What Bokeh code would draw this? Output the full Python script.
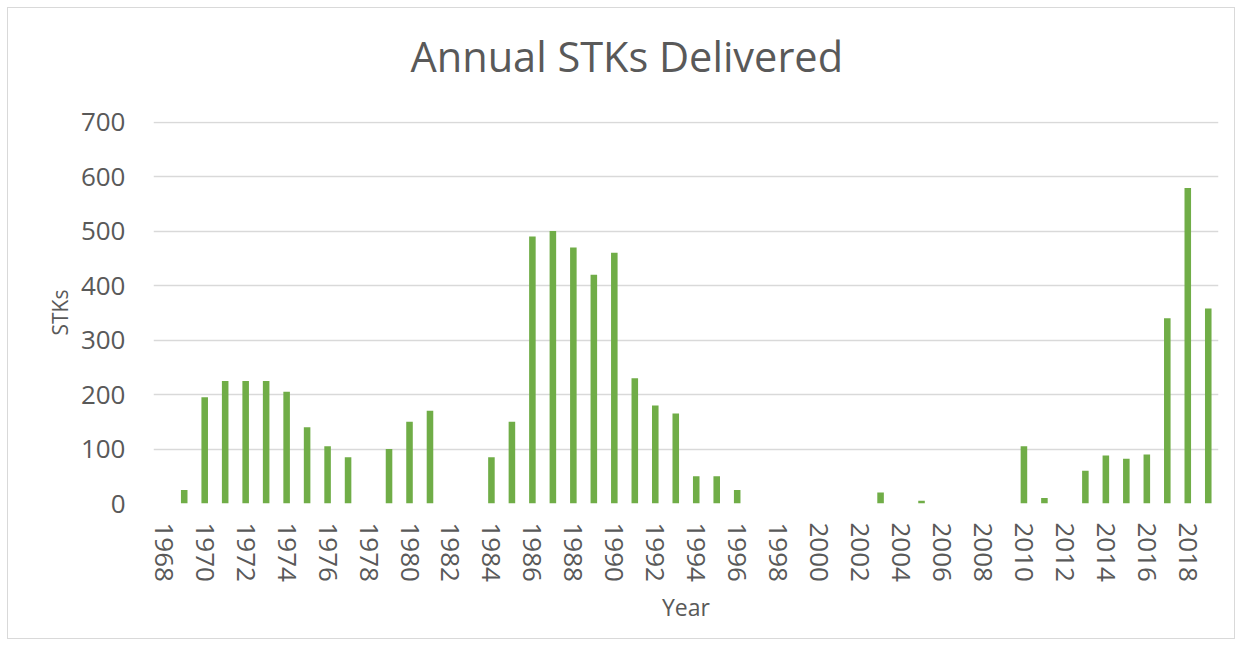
from bokeh.plotting import figure
from bokeh.models import Range1d, FixedTicker, Title
from bokeh.embed import file_html
from bokeh.resources import INLINE

years = list(range(1968, 2020))
stks = [0, 25, 195, 225, 225, 225, 205, 140, 105, 85,
        0, 100, 150, 170, 0, 0, 85, 150, 490, 500,
        470, 420, 460, 230, 180, 165, 50, 50, 25, 0,
        0, 0, 0, 0, 0, 20, 0, 5, 0, 0,
        0, 0, 105, 10, 0, 60, 88, 82, 90, 340,
        579, 358]
x_ticks = list(range(1968, 2019, 2))
y_ticks = [0, 100, 200, 300, 400, 500, 600, 700]

title_text = "Annual STKs Delivered"
x_label = "Year"
y_label = "STKs"

FONT = "Open Sans"
TXT = "#595959"

p = figure(width=1228, height=632, output_backend="svg", toolbar_location=None,
           x_range=Range1d(1967.5, 2019.5), y_range=Range1d(0, 701),
           min_border_left=145, min_border_right=18, min_border_top=113,
           min_border_bottom=137,
           styles={"border": "1px solid #D9D9D9", "margin-left": "7px",
                   "margin-top": "7px"})

p.vbar(x=years, top=stks, width=0.32, fill_color="#70AD47", line_color=None)

p.outline_line_color = None
p.xgrid.grid_line_color = None
p.ygrid.grid_line_color = "#D9D9D9"
p.ygrid.grid_line_width = 1.5

# spacer between frame and the title
spacer = Title(text=" ", text_font=FONT, text_font_size="20px", standoff=7)
p.add_layout(spacer, "above")
main_title = Title(text=title_text, text_font=FONT, text_font_size="41.5px",
                   text_font_style="normal", text_color=TXT, align="left",
                   offset=257, vertical_align="top", standoff=0)
p.add_layout(main_title, "above")

p.xaxis.ticker = FixedTicker(ticks=x_ticks)
p.yaxis.ticker = FixedTicker(ticks=y_ticks)
for ax in (p.xaxis[0], p.yaxis[0]):
    ax.axis_line_color = None
    ax.major_tick_line_color = None
    ax.minor_tick_line_color = None
    ax.major_label_text_font = FONT
    ax.major_label_text_color = TXT
    ax.major_label_text_font_size = "26px"
    ax.axis_label_text_font = FONT
    ax.axis_label_text_color = TXT
    ax.axis_label_text_font_style = "normal"

p.xaxis.major_label_orientation = "vertical"
p.xaxis.major_label_standoff = 13
p.yaxis.major_label_standoff = 22
p.xaxis.axis_label = x_label
p.yaxis.axis_label = y_label
p.xaxis.axis_label_text_font_size = "23px"
p.yaxis.axis_label_text_font_size = "21px"
p.xaxis.axis_label_standoff = 6
p.yaxis.axis_label_standoff = 4

open("out.html", "w").write(file_html(p, INLINE))
